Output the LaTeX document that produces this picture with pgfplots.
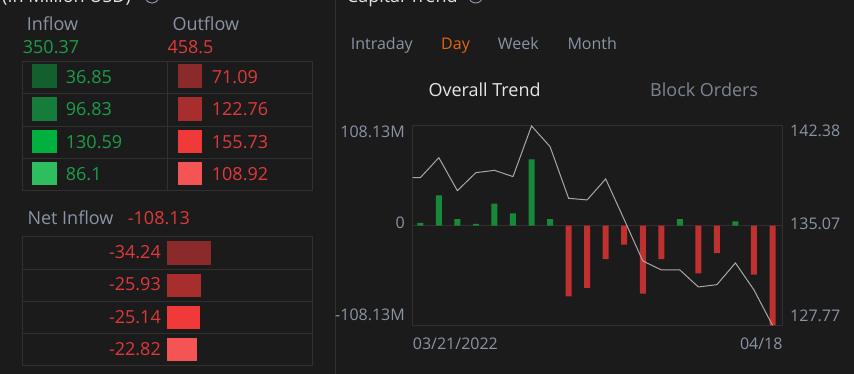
\documentclass[border=0pt]{standalone}
\usepackage{fontspec}
\setmainfont{Open Sans}
\usepackage{pgfplots}
\pgfplotsset{compat=1.18}
\definecolor{bg}{HTML}{1B1B1B}
\definecolor{gridc}{HTML}{303030}
\definecolor{lab}{HTML}{8A94A6}
\definecolor{gtxt}{HTML}{1C9E48}
\definecolor{rtxt}{HTML}{E0393B}
\definecolor{g1}{HTML}{135F2E}
\definecolor{g2}{HTML}{167C3C}
\definecolor{g3}{HTML}{00B140}
\definecolor{g4}{HTML}{2EBD5F}
\definecolor{r1}{HTML}{8B2A2A}
\definecolor{r2}{HTML}{A82E2E}
\definecolor{r3}{HTML}{F03A3A}
\definecolor{r4}{HTML}{F55454}
\definecolor{barg}{HTML}{178A3A}
\definecolor{barr}{HTML}{C0302F}
\definecolor{linec}{HTML}{A8A8A8}
\definecolor{dayc}{HTML}{E8650F}
\definecolor{blockc}{HTML}{7D8593}
\definecolor{overc}{HTML}{E6E6E6}
\newcommand{\fs}[1]{\fontsize{#1}{#1}\selectfont}
\begin{document}
\begin{tikzpicture}[x=1pt,y=1pt]
\useasboundingbox (0,0) rectangle (854,374);
\clip (0,0) rectangle (854,374);
\fill[bg] (0,0) rectangle (854,374);
\coordinate (NETO) at (167,8);
\coordinate (MAINO) at (412.7,48.7);
% divider
\draw[color=gridc,line width=1pt] (335.7,0) -- (335.7,374);
% titles (cut at top)
\node[anchor=base east,inner sep=0pt,text=overc] at (131,371) {\fs{18}Capital Distribution (In Million USD)};
\draw[color=lab,line width=1pt] (152,378) circle (7);
\node[anchor=base west,inner sep=0pt,text=overc] at (346.7,371.5) {\fs{18}Capital Trend};
\draw[color=lab,line width=1pt] (475.7,378) circle (7);
% left header
\node[anchor=base west,inner sep=0pt,text=lab] at (26.7,343) {\fs{18}Inflow};
\node[anchor=base west,inner sep=0pt,text=gtxt] at (22.7,320.7) {\fs{18}350.37};
\node[anchor=base west,inner sep=0pt,text=lab] at (172.3,343) {\fs{18}Outflow};
\node[anchor=base west,inner sep=0pt,text=rtxt] at (167.3,320.7) {\fs{18}458.5};
% inflow/outflow table
\draw[color=gridc,line width=1pt] (22,183) rectangle (312,312.7);
\foreach \yy in {215.4,247.7,280} {\draw[color=gridc,line width=1pt] (22,\yy) -- (312,\yy);}
\draw[color=gridc,line width=1pt] (167.3,183) -- (167.3,312.7);
\fill[g1] (32.3,285.7) rectangle (56.7,309.7);
\fill[g2] (32.3,253.3) rectangle (56.7,277.3);
\fill[g3] (32.3,221) rectangle (56.7,244.3);
\fill[g4] (32.3,188.7) rectangle (56.7,212.3);
\fill[r1] (177.7,285.7) rectangle (201.7,309.7);
\fill[r2] (177.7,253.3) rectangle (201.7,277.3);
\fill[r3] (177.7,221) rectangle (201.7,244.3);
\fill[r4] (177.7,188.7) rectangle (201.7,212.3);
\node[anchor=base west,inner sep=0pt,text=gtxt] at (65.7,290.7) {\fs{18}36.85};
\node[anchor=base west,inner sep=0pt,text=gtxt] at (65.7,258.3) {\fs{18}96.83};
\node[anchor=base west,inner sep=0pt,text=gtxt] at (65.7,225.7) {\fs{18}130.59};
\node[anchor=base west,inner sep=0pt,text=gtxt] at (65.7,193.3) {\fs{18}86.1};
\node[anchor=base west,inner sep=0pt,text=rtxt] at (211.7,290.7) {\fs{18}71.09};
\node[anchor=base west,inner sep=0pt,text=rtxt] at (211.7,258.3) {\fs{18}122.76};
\node[anchor=base west,inner sep=0pt,text=rtxt] at (211.7,225.7) {\fs{18}155.73};
\node[anchor=base west,inner sep=0pt,text=rtxt] at (211.7,193.3) {\fs{18}108.92};
% net inflow
\node[anchor=base west,inner sep=0pt,text=lab] at (27.3,149) {\fs{18}Net Inflow};
\node[anchor=base west,inner sep=0pt,text=rtxt] at (127.7,149) {\fs{18}-108.13};
\draw[color=gridc,line width=1pt] (22,8) rectangle (312,137.3);
\foreach \yy in {40,72.3,104.7} {\draw[color=gridc,line width=1pt] (22,\yy) -- (312,\yy);}
\node[anchor=base east,inner sep=0pt,text=rtxt] at (161,115.7) {\fs{18}-34.24};
\node[anchor=base east,inner sep=0pt,text=rtxt] at (161,83.3) {\fs{18}-25.93};
\node[anchor=base east,inner sep=0pt,text=rtxt] at (161,50.7) {\fs{18}-25.14};
\node[anchor=base east,inner sep=0pt,text=rtxt] at (161,18.3) {\fs{18}-22.82};
\begin{axis}[at={(NETO)},anchor=south west,width=129.5pt,height=129.3pt,scale only axis,
  xmin=-100,xmax=0,x dir=reverse,ymin=0.5,ymax=4.5,y dir=reverse,hide axis,clip=false]
\addplot[xbar,bar shift=0pt,bar width=23.3pt,fill=r1,draw=none] coordinates {(-34.24,1)};
\addplot[xbar,bar shift=0pt,bar width=23.3pt,fill=r2,draw=none] coordinates {(-25.93,2)};
\addplot[xbar,bar shift=0pt,bar width=23.3pt,fill=r3,draw=none] coordinates {(-25.14,3)};
\addplot[xbar,bar shift=0pt,bar width=23.3pt,fill=r4,draw=none] coordinates {(-22.82,4)};
\end{axis}
% right panel tabs
\node[anchor=base west,inner sep=0pt,text=lab] at (350.7,324.7) {\fs{16}Intraday};
\node[anchor=base west,inner sep=0pt,text=dayc] at (441,324.7) {\fs{16}Day};
\node[anchor=base west,inner sep=0pt,text=lab] at (497.7,324.7) {\fs{16}Week};
\node[anchor=base west,inner sep=0pt,text=lab] at (567.3,324.7) {\fs{16}Month};
\node[anchor=base west,inner sep=0pt,text=overc] at (428.3,277.3) {\fs{18}Overall Trend};
\node[anchor=base west,inner sep=0pt,text=blockc] at (650,277.3) {\fs{18}Block Orders};
% main chart
\begin{axis}[at={(MAINO)},anchor=south west,width=370pt,height=199.3pt,scale only axis,
  xmin=-0.41,xmax=19.55,ymin=-108.13,ymax=108.13,
  axis line style={color=gridc,line width=1pt},
  major tick length=0pt,
  ytick={-108.13,0,108.13},
  yticklabels={\raisebox{4.6pt}{-108.13M},\raisebox{-3pt}{0},\raisebox{-11.3pt}{108.13M}},
  yticklabel style={anchor=base east,inner sep=0pt,xshift=-7.7pt,text=lab,font=\fs{16}},
  ymajorgrids,major grid style={color=gridc,line width=1pt},
  xtick={-0.41},xticklabels={03/21/2022},
  xticklabel style={anchor=base west,inner sep=0pt,yshift=-24.4pt,text=lab,font=\fs{16}},
  extra x ticks={19.55},extra x tick labels={04/18},
  extra x tick style={xticklabel style={anchor=base east}},
  clip=false]
\addplot[ybar,bar shift=0pt,bar width=6pt,fill=barg,draw=none] coordinates {
(0,2.9) (1,32.9) (2,7.2) (3,1.8) (4,23.9) (5,13.4) (6,72.0) (7,7.2) (14,7.2) (17,4.7)};
\addplot[ybar,bar shift=0pt,bar width=6pt,fill=barr,draw=none] coordinates {
(8,-76.7) (9,-67.6) (10,-36.2) (11,-20.6) (12,-73.8) (13,-36.2) (15,-51.7) (16,-29.7) (18,-53.2) (19,-108.13)};
\end{axis}
\begin{axis}[at={(MAINO)},anchor=south west,width=370pt,height=199.3pt,scale only axis,
  xmin=-0.41,xmax=19.55,ymin=127.77,ymax=142.38,
  axis y line*=right,axis x line=none,
  axis line style={draw=none},
  major tick length=0pt,
  ytick={127.77,135.07,142.38},
  yticklabels={\raisebox{4pt}{127.77},\raisebox{-3.3pt}{135.07},\raisebox{-10.7pt}{142.38}},
  yticklabel style={anchor=base west,inner sep=0pt,xshift=7.3pt,text=lab,font=\fs{16}},
  clip=false]
\addplot[color=linec,line width=1pt,mark=none] coordinates {
(-0.41,138.59) (0,138.59) (1,140.06) (2,137.64) (3,138.96) (4,139.13) (5,138.67) (6,142.38)
(7,140.87) (8,137.08) (9,136.96) (10,138.50) (11,135.52) (12,132.49) (13,131.83) (14,131.83)
(15,130.58) (16,130.75) (17,132.34) (18,130.36) (19,127.77)};
\end{axis}
\end{tikzpicture}
\end{document}
